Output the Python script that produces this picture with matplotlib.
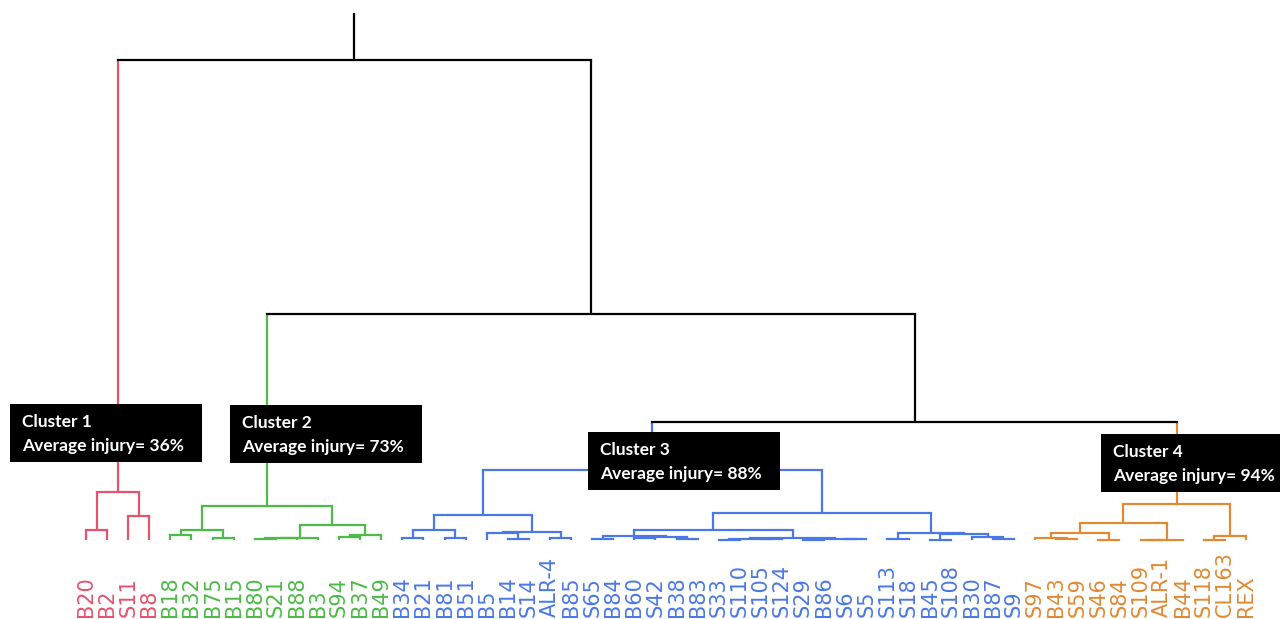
import matplotlib
matplotlib.use("Agg")
import matplotlib.pyplot as plt
from matplotlib.patches import Rectangle

# leaf order along the bottom
labels = ["B20", "B2", "S11", "B8",
          "B18", "B32", "B75", "B15", "B80", "S21", "B88", "B3", "S94", "B37", "B49",
          "B34", "B21", "B81", "B51", "B5", "B14", "S14", "ALR-4", "B85", "S65", "B84",
          "B60", "S42", "B38", "B83", "S33", "S110", "S105", "S124", "S29", "B86", "S6",
          "S5", "S113", "S18", "B45", "S108", "B30", "B87", "S9",
          "S97", "B43", "S59", "S46", "S84", "S109", "ALR-1", "B44", "S118", "CL163", "REX"]

# merges as (left, right, height)
cluster1 = (("B20", "B2", 2.1), ("S11", "B8", 4.9), 9.9)
cluster2 = ((("B18", "B32", 1.0), ("B75", "B15", 0.5), 2.1),
            (((("B80", "S21", 0.3), "B88", 0.35), "B3", 0.45),
             (("S94", "B37", 0.6), "B49", 1.0), 3.1),
            7.1)
cluster3 = (((("B34", "B21", 0.4), ("B81", "B51", 0.4), 2.1),
             (("B5", ("B14", "S14", 0.3), 1.5), ("ALR-4", "B85", 0.4), 1.7), 5.2),
            (((("S65", "B84", 0.3), (("B60", "S42", 0.4), ("B38", "B83", 0.3), 0.6), 0.8),
              ((("S33", "S110", 0.1), ("S105", "S124", 0.15), 0.25),
               (("S29", "B86", 0.1), ("S6", "S5", 0.15), 0.3), 0.4), 2.1),
             (("S113", "S18", 0.2),
              (("B45", "S108", 0.1), ("B30", ("B87", "S9", 0.2), 0.7), 1.25), 1.5), 5.6),
            14.6)
cluster4 = (((("S97", ("B43", "S59", 0.15), 0.4), ("S46", "S84", 0.1), 1.5),
             (("S109", "ALR-1", 0.05), "B44", 0.1), 3.5),
            (("S118", "CL163", 0.1), "REX", 0.8),
            7.5)
tree = (cluster1, (cluster2, (cluster3, cluster4, 24.6), 47.1), 100.0)
stem_top = 109.6

clusters = [cluster1, cluster2, cluster3, cluster4]
cluster_colors = ["#e5546b", "#4cbb47", "#4a78e6", "#e08a35"]
cluster_names = ["Cluster 1", "Cluster 2", "Cluster 3", "Cluster 4"]
avg_injury = [36, 73, 88, 94]

fig = plt.figure(figsize=(12.8, 6.19), dpi=100)
ax = fig.add_axes([0, 0, 1, 1])
ax.axis("off")

# 21.09 px between leaves, 4.8 px per height unit
step = 21.09
ax.set_xlim(-86 / step, -86 / step + 1280 / step)
ax.set_ylim(-79 / 4.8, 540 / 4.8)

LW = 1.6


def color_of(node, inherited):
    for c, col in zip(clusters, cluster_colors):
        if c is node:
            return col
    return inherited


def draw(node, color):
    if isinstance(node, str):
        return labels.index(node), 0.0
    left, right, h = node
    xs = []
    for child in (left, right):
        ccol = color_of(child, color)
        cx, ch = draw(child, ccol)
        ax.plot([cx, cx], [ch, h], color=ccol, lw=LW, solid_capstyle="butt")
        xs.append(cx)
    ax.plot(xs, [h, h], color=color, lw=LW, solid_capstyle="projecting")
    return sum(xs) / 2, h


root_x, root_h = draw(tree, "black")
ax.plot([root_x, root_x], [root_h, stem_top], color="black", lw=LW)


def leaves(node):
    if isinstance(node, str):
        return [node]
    return leaves(node[0]) + leaves(node[1])


# leaf names start at the bottom edge and read upwards
for c, col in zip(clusters, cluster_colors):
    for name in leaves(c):
        ax.text(labels.index(name), -16.1, name, rotation=90,
                rotation_mode="anchor", ha="left", va="center",
                fontsize=15, color=col, family="DejaVu Sans")


# annotation boxes, positions in pixels of the 1280x619 canvas
def fx(x):
    return x / 1280


def fy(y):
    return 1 - y / 619


box_pos = [(10, 404), (230, 405), (588, 432), (1101, 434)]
box_w, box_h = 192, 58
for (bx, by), name, val in zip(box_pos, cluster_names, avg_injury):
    ax.add_patch(Rectangle((fx(bx), fy(by + box_h)), box_w / 1280, box_h / 619,
                           transform=ax.transAxes, facecolor="black",
                           edgecolor="none", clip_on=False, zorder=5))
    ax.text(fx(bx + 12), fy(by + 23), name, transform=ax.transAxes,
            color="white", fontsize=12.5, family="Lato", weight="bold",
            va="baseline", zorder=6)
    ax.text(fx(bx + 12), fy(by + 47), f"Average injury= {val}%",
            transform=ax.transAxes, color="white", fontsize=12.5, family="Lato",
            weight="bold", va="baseline", zorder=6)

fig.savefig("out.png", dpi=100)
